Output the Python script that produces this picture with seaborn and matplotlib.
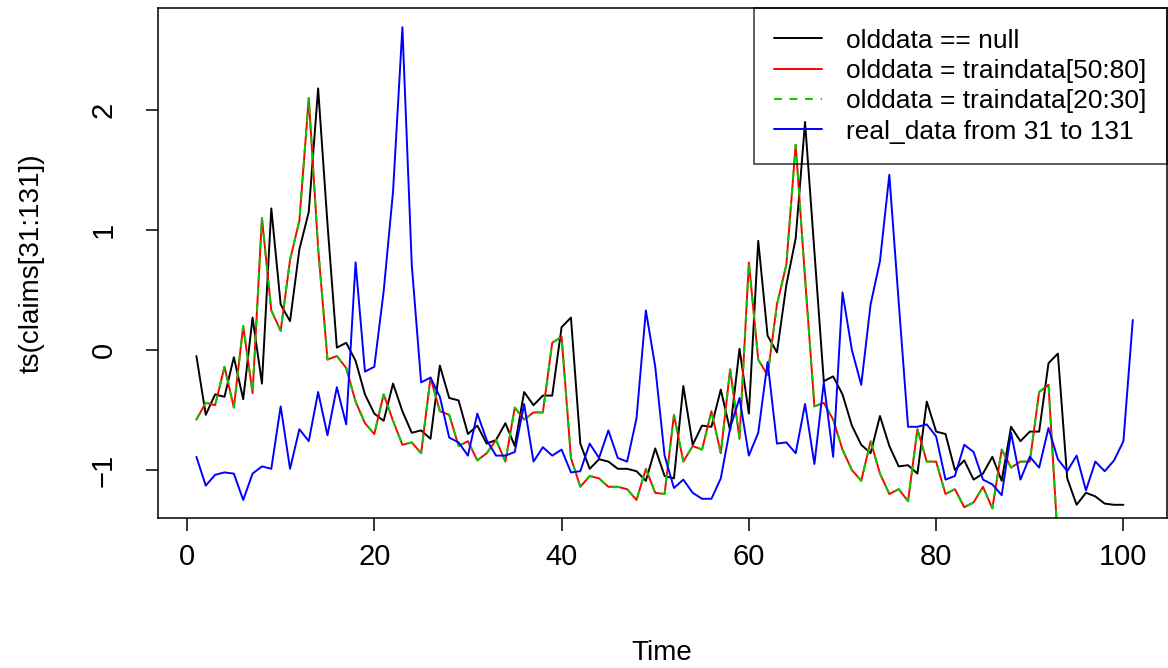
import numpy as np
import pandas as pd
import matplotlib
matplotlib.use('Agg')
import matplotlib.pyplot as plt
import seaborn as sns

# series (index 1..n)
old_null = [-0.05, -0.54, -0.37, -0.39, -0.06, -0.41, 0.27, -0.28, 1.18, 0.38,
            0.24, 0.84, 1.15, 2.18, 1.05, 0.02, 0.06, -0.09, -0.37, -0.53,
            -0.59, -0.28, -0.51, -0.69, -0.67, -0.74, -0.13, -0.40, -0.42, -0.70,
            -0.63, -0.78, -0.75, -0.61, -0.80, -0.35, -0.46, -0.38, -0.38, 0.19,
            0.27, -0.78, -0.99, -0.91, -0.93, -0.99, -0.99, -1.01, -1.09, -0.82,
            -1.05, -1.07, -0.30, -0.79, -0.63, -0.64, -0.33, -0.67, 0.01, -0.53,
            0.91, 0.12, -0.02, 0.54, 0.93, 1.90, 0.82, -0.26, -0.22, -0.37,
            -0.63, -0.79, -0.86, -0.55, -0.80, -0.97, -0.96, -1.03, -0.43, -0.68,
            -0.70, -1.00, -0.92, -1.08, -1.03, -0.89, -1.09, -0.64, -0.76, -0.68,
            -0.68, -0.11, -0.03, -1.07, -1.29, -1.19, -1.22, -1.28, -1.29, -1.29]

old_train = [-0.58, -0.44, -0.46, -0.14, -0.48, 0.20, -0.36, 1.10, 0.33, 0.16,
             0.75, 1.08, 2.10, 0.85, -0.08, -0.05, -0.15, -0.43, -0.61, -0.70,
             -0.37, -0.59, -0.79, -0.77, -0.86, -0.23, -0.51, -0.54, -0.80, -0.76,
             -0.92, -0.86, -0.75, -0.93, -0.48, -0.58, -0.52, -0.52, 0.06, 0.11,
             -0.90, -1.14, -1.05, -1.07, -1.14, -1.14, -1.16, -1.25, -0.99, -1.19,
             -1.20, -0.54, -0.93, -0.80, -0.83, -0.51, -0.86, -0.16, -0.74, 0.73,
             -0.08, -0.21, 0.38, 0.71, 1.71, 0.60, -0.47, -0.44, -0.58, -0.83,
             -1.00, -1.09, -0.76, -1.03, -1.20, -1.16, -1.26, -0.66, -0.93, -0.93,
             -1.20, -1.16, -1.31, -1.27, -1.14, -1.32, -0.83, -0.98, -0.93, -0.93,
             -0.35, -0.29, -1.60]

real_data = [-0.89, -1.13, -1.04, -1.02, -1.03, -1.25, -1.03, -0.97, -0.99, -0.47,
             -0.99, -0.66, -0.76, -0.35, -0.71, -0.31, -0.62, 0.73, -0.18, -0.14,
             0.49, 1.32, 2.69, 0.71, -0.27, -0.23, -0.39, -0.73, -0.77, -0.88,
             -0.53, -0.75, -0.88, -0.88, -0.85, -0.45, -0.93, -0.81, -0.88, -0.83,
             -1.02, -1.01, -0.78, -0.90, -0.67, -0.90, -0.93, -0.57, 0.33, -0.14,
             -0.88, -1.15, -1.08, -1.19, -1.24, -1.24, -1.07, -0.65, -0.40, -0.88,
             -0.69, -0.10, -0.78, -0.77, -0.86, -0.45, -0.95, -0.27, -0.89, 0.48,
             0.00, -0.29, 0.38, 0.74, 1.46, 0.40, -0.64, -0.64, -0.62, -0.72,
             -1.08, -1.05, -0.79, -0.85, -1.08, -1.12, -1.21, -0.69, -1.08, -0.89,
             -0.98, -0.65, -0.91, -1.01, -0.88, -1.17, -0.93, -1.01, -0.92, -0.76,
             0.25]

labels = ['olddata == null', 'olddata = traindata[50:80]',
          'olddata = traindata[20:30]', 'real_data from 31 to 131']

sns.set_style('white')
plt.rcParams['font.family'] = ['Liberation Sans', 'DejaVu Sans']
plt.rcParams.update({'text.color': 'black', 'axes.labelcolor': 'black',
                     'xtick.color': 'black', 'ytick.color': 'black'})

fig = plt.figure(figsize=(11.68, 6.68), dpi=100)
ax = fig.add_axes([158 / 1168, 1 - 518 / 668, 1008.5 / 1168, 510 / 668])

lw = 1.4
sns.lineplot(x=np.arange(1, len(old_null) + 1), y=old_null, color='black',
             linewidth=lw, label=labels[0], ax=ax)
sns.lineplot(x=np.arange(1, len(old_train) + 1), y=old_train, color='#ff0000',
             linewidth=lw, label=labels[1], ax=ax)
sns.lineplot(x=np.arange(1, len(old_train) + 1), y=old_train, color='#00cd00',
             linewidth=lw, linestyle=(0, (4, 4)), label=labels[2], ax=ax)
sns.lineplot(x=np.arange(1, len(real_data) + 1), y=real_data, color='#0000ff',
             linewidth=lw, label=labels[3], ax=ax)

ax.set_xlim(-3.1, 104.6)
ax.set_ylim(-1.4, 2.85)
ax.set_xticks([0, 20, 40, 60, 80, 100])
ax.set_yticks([-1, 0, 1, 2])
ax.tick_params(axis='both', direction='out', length=9, width=1.1, color='black',
               labelcolor='black', labelsize=21, left=True, bottom=True)
ax.tick_params(axis='x', pad=9)
ax.tick_params(axis='y', pad=20)
for lab in ax.get_yticklabels():
    lab.set_rotation(90)
    lab.set_va('center')
for sp in ax.spines.values():
    sp.set_color('black')
    sp.set_linewidth(1.1)

ax.set_xlabel('Time', fontsize=20)
ax.set_ylabel('ts(claims[31:131])', fontsize=20)
ax.xaxis.set_label_coords(0.5, -0.24)
ax.yaxis.set_label_coords(-0.112, 0.5)

leg = ax.legend(loc='upper right', bbox_to_anchor=(1, 1), borderaxespad=0,
                fontsize=19, fancybox=False, edgecolor='black', facecolor='none',
                framealpha=None, handlelength=1.8, handletextpad=0.9,
                labelspacing=0.24, borderpad=0.78)
leg.get_frame().set_linewidth(1.1)
for txt in leg.get_texts():
    txt.set_color('black')

fig.savefig('out.png', dpi=100)
